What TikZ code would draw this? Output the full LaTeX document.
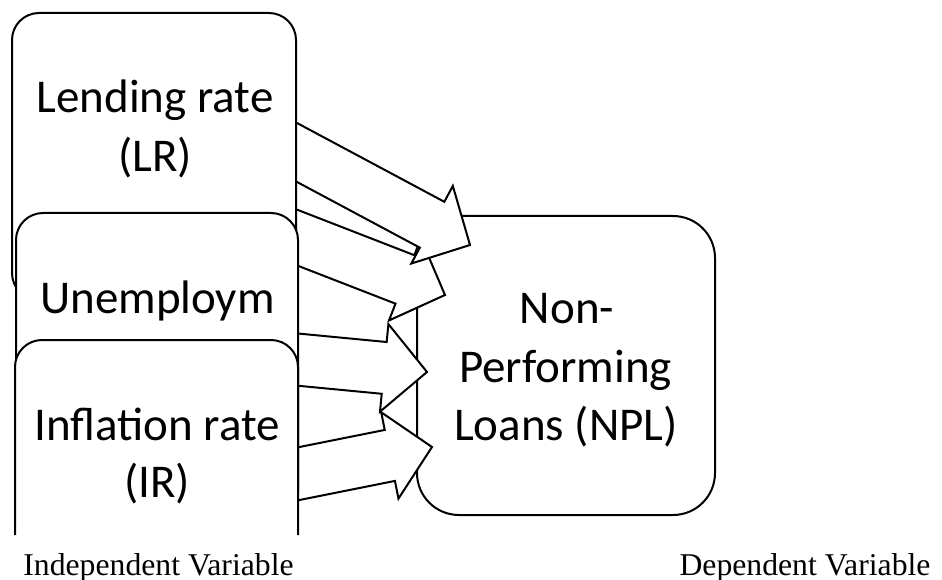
\documentclass[tikz,border=0pt]{standalone}
\usepackage{fontspec}
\setmainfont{Carlito}
\newfontfamily\labelfont{Liberation Serif}
\usetikzlibrary{calc}

\tikzset{
  box/.style={draw=black, line width=2pt, fill=white, rounded corners=27pt},
  blockarrow/.style={draw=black, line width=2pt, fill=white, line join=miter},
  boxtext/.style={anchor=base, inner sep=0pt, font=\fontsize{47}{59}\selectfont},
  caption/.style={anchor=base, inner sep=0pt, font=\labelfont\fontsize{31.7}{38}\selectfont},
}

% outlined block arrow from tail #1 to tip #2
\newcommand\drawblockarrow[2]{%
  \coordinate (hb) at ($(#2)!43pt!(#1)$);
  \draw[blockarrow]
    ($(#1)!26pt!90:(#2)$) -- ($(hb)!26pt!90:(#2)$) -- ($(hb)!44pt!90:(#2)$)
    -- (#2)
    -- ($(hb)!44pt!-90:(#2)$) -- ($(hb)!26pt!-90:(#2)$) -- ($(#1)!26pt!-90:(#2)$)
    -- cycle;
}

\begin{document}
\begin{tikzpicture}[x=1pt, y=-1pt]
  \useasboundingbox[fill=white] (0,0) rectangle (942,580);

  % dependent variable box
  \draw[box, rounded corners=42pt] (417,216) rectangle (715,515);

  % arrow tails (hidden behind the left boxes) and tips
  \coordinate (t1) at (257,131.1);  \coordinate (p1) at (470,245);
  \coordinate (t2) at (257,222.0);  \coordinate (p2) at (445,295);
  \coordinate (t3) at (257,355.7);  \coordinate (p3) at (427,372);
  \coordinate (t4) at (257,482.0);  \coordinate (p4) at (432,447);

  \drawblockarrow{t4}{p4}
  \drawblockarrow{t3}{p3}
  \drawblockarrow{t2}{p2}
  \drawblockarrow{t1}{p1}

  % independent variable boxes, stacked
  \draw[box] (12,13) rectangle (296,300);
  \node[boxtext] (lr1) at (155,113) {Lending rate};
  \node[boxtext] (lr2) at (155,172) {(LR)};

  \draw[box] (16,213) rectangle (298,520);
  \node[boxtext] (ur1) at (157.5,313) {Unemploym};

  \draw[box] (15,535) -- (15,340) -- (298,340) -- (298,535);
  \node[boxtext] (ir1) at (157,440) {Inflation rate};
  \node[boxtext] (ir2) at (157,497) {(IR)};

  % dependent variable text
  \node[boxtext] (npl1) at (567,323) {Non-};
  \node[boxtext] (npl2) at (565.5,382) {Performing};
  \node[boxtext] (npl3) at (566,440) {Loans (NPL)};

  % captions
  \node[caption] (indep) at (158.5,575) {Independent Variable};
  \node[caption] (dep) at (805,575) {Dependent Variable};
\end{tikzpicture}
\end{document}
